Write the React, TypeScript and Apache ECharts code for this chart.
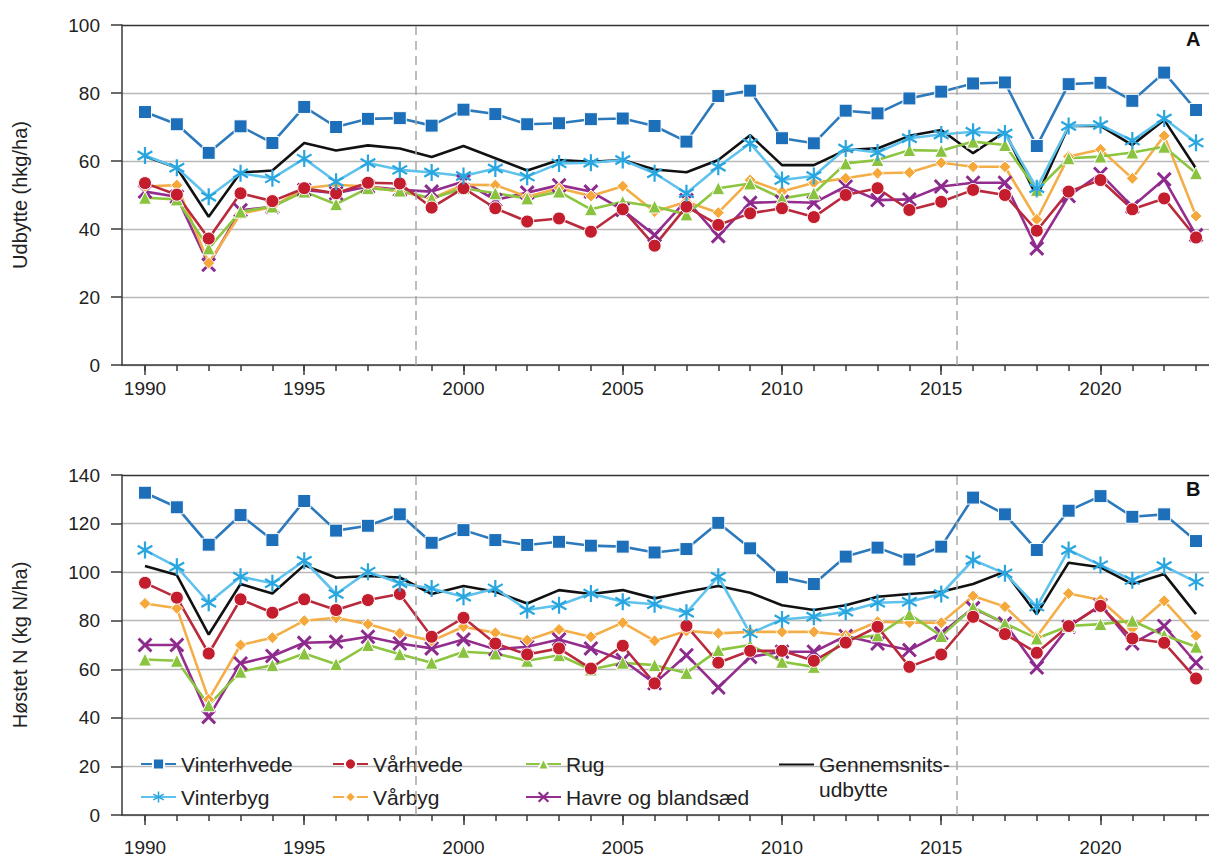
import React, { useEffect, useRef } from 'react';
import * as echarts from 'echarts';

// ---------- data ----------
const years = [1990, 1991, 1992, 1993, 1994, 1995, 1996, 1997, 1998, 1999, 2000, 2001, 2002, 2003, 2004, 2005, 2006, 2007, 2008, 2009, 2010, 2011, 2012, 2013, 2014, 2015, 2016, 2017, 2018, 2019, 2020, 2021, 2022, 2023];
const labelYears = [1990, 1995, 2000, 2005, 2010, 2015, 2020];
const periodBreaks = [1998.5, 2015.5];

// Panel A: Udbytte (hkg/ha)
const vinterhvedeA = [74.4, 70.8, 62.4, 70.2, 65.3, 75.9, 70.0, 72.4, 72.6, 70.4, 75.1, 73.8, 70.8, 71.1, 72.3, 72.5, 70.3, 65.7, 79.1, 80.7, 66.7, 65.2, 74.8, 74.0, 78.4, 80.4, 82.8, 83.1, 64.4, 82.6, 83.0, 77.7, 86.0, 75.0];
const vinterbygA = [61.6, 58.0, 49.5, 56.4, 54.9, 60.7, 53.9, 59.4, 57.4, 56.6, 55.6, 57.8, 55.4, 59.3, 59.5, 60.3, 56.4, 50.5, 58.3, 65.2, 54.4, 55.6, 63.7, 62.5, 66.7, 67.8, 68.6, 68.1, 52.0, 70.3, 70.6, 66.0, 72.5, 65.4];
const vaarhvedeA = [53.5, 50.1, 37.2, 50.5, 48.2, 52.0, 50.5, 53.6, 53.4, 46.3, 52.0, 46.1, 42.2, 43.1, 39.2, 45.8, 35.1, 46.6, 41.2, 44.6, 46.1, 43.5, 50.0, 52.0, 45.6, 48.0, 51.5, 50.0, 39.5, 51.0, 54.4, 45.8, 49.0, 37.5];
const rugA = [49.2, 48.7, 34.3, 45.1, 46.6, 51.0, 47.3, 52.0, 51.3, 49.0, 52.0, 50.5, 49.0, 51.0, 45.8, 48.0, 46.6, 44.3, 52.0, 53.4, 49.0, 50.5, 59.3, 60.3, 63.2, 63.0, 65.7, 64.7, 51.5, 60.8, 61.3, 62.5, 64.2, 56.4];
const vaarbygA = [52.5, 52.9, 30.0, 44.5, 46.5, 52.0, 53.0, 52.5, 51.0, 49.0, 53.0, 52.9, 49.5, 52.0, 49.7, 52.6, 45.1, 48.0, 44.8, 54.4, 51.0, 53.6, 54.9, 56.4, 56.6, 59.5, 58.3, 58.3, 42.8, 61.3, 63.4, 54.9, 67.4, 43.8];
const havreA = [51.0, 49.5, 29.5, 45.5, 46.5, 51.5, 50.5, 52.5, 51.5, 51.0, 54.0, 48.5, 50.7, 52.9, 51.0, 45.6, 38.2, 48.5, 37.9, 47.7, 48.0, 47.7, 52.5, 48.5, 48.7, 52.5, 53.6, 53.6, 34.3, 49.7, 56.2, 46.6, 54.6, 38.2];
const gennemsnitA = [61.4, 58.0, 43.6, 56.6, 57.2, 65.3, 63.1, 64.6, 63.7, 61.2, 64.4, 60.8, 57.2, 60.3, 59.8, 60.3, 57.5, 56.7, 60.3, 67.6, 58.8, 58.8, 63.2, 63.7, 67.4, 69.1, 62.3, 68.6, 49.5, 70.3, 70.3, 64.7, 72.1, 57.8];

// Panel B: Høstet N (kg N/ha)
const vinterhvedeB = [132.7, 126.7, 111.3, 123.5, 113.2, 129.3, 117.1, 119.1, 123.8, 112.1, 117.3, 113.2, 111.2, 112.5, 110.9, 110.5, 108.1, 109.5, 120.3, 109.8, 97.9, 95.1, 106.4, 110.1, 105.2, 110.5, 130.7, 123.8, 109.1, 125.3, 131.3, 122.8, 123.8, 112.8];
const vinterbygB = [109.1, 102.2, 87.4, 98.1, 95.4, 104.7, 91.0, 100.2, 95.4, 93.3, 89.9, 93.3, 84.4, 86.4, 91.2, 87.8, 86.8, 83.3, 98.1, 74.8, 80.5, 81.6, 83.7, 87.4, 87.8, 91.0, 105.0, 99.5, 85.8, 109.1, 102.9, 96.7, 102.5, 96.0];
const vaarhvedeB = [95.6, 89.5, 66.5, 88.8, 83.3, 88.8, 84.4, 88.5, 91.0, 73.4, 81.2, 70.6, 66.1, 68.6, 60.3, 69.7, 54.2, 77.9, 62.7, 67.6, 67.6, 63.5, 71.0, 77.5, 61.0, 66.1, 81.6, 74.5, 66.8, 77.8, 86.1, 72.7, 70.9, 56.2];
const rugB = [64.0, 63.5, 45.2, 59.0, 61.7, 66.5, 62.1, 70.0, 66.2, 62.7, 67.2, 66.5, 63.5, 65.8, 59.9, 62.7, 61.7, 58.5, 67.9, 70.0, 63.1, 61.0, 72.5, 74.0, 82.7, 73.7, 85.5, 78.9, 72.7, 77.8, 78.6, 80.0, 74.0, 69.3];
const vaarbygB = [87.1, 85.1, 47.6, 70.0, 73.0, 80.0, 81.2, 78.6, 74.8, 71.7, 77.5, 75.0, 72.0, 76.4, 73.4, 79.2, 71.7, 75.8, 74.8, 75.4, 75.4, 75.4, 74.0, 79.6, 79.2, 79.2, 90.2, 85.8, 73.4, 91.2, 88.5, 76.8, 88.2, 73.8];
const havreB = [70.0, 70.0, 40.4, 62.4, 65.5, 70.9, 71.3, 73.4, 70.6, 68.6, 72.3, 68.2, 69.3, 72.3, 68.6, 63.8, 54.2, 65.8, 52.5, 65.1, 67.2, 67.2, 73.7, 70.6, 67.9, 74.8, 85.2, 78.9, 60.7, 77.5, 86.4, 70.6, 77.8, 62.7];
const gennemsnitB = [102.5, 98.8, 74.3, 95.1, 91.2, 102.9, 97.7, 98.4, 97.8, 91.0, 94.3, 91.9, 87.1, 92.6, 91.0, 92.6, 89.2, 91.9, 94.3, 91.5, 86.4, 84.4, 86.4, 89.9, 91.0, 91.9, 95.1, 100.2, 82.7, 103.9, 102.0, 95.1, 99.2, 82.7];

const NAMES = {
  vh: 'Vinterhvede',
  vb: 'Vinterbyg',
  sh: 'Vårhvede',
  sb: 'Vårbyg',
  rug: 'Rug',
  havre: 'Havre og blandsæd',
  avg: 'Gennemsnitsudbytte',
};

// ---------- symbol shapes ----------
function bar(angleDeg: number, len: number, w: number): string {
  const a = (angleDeg * Math.PI) / 180;
  const dx = Math.cos(a), dy = Math.sin(a);
  const px = -dy, py = dx;
  const h = len / 2, t = w / 2;
  const pts = [
    [h * dx + t * px, h * dy + t * py],
    [-h * dx + t * px, -h * dy + t * py],
    [-h * dx - t * px, -h * dy - t * py],
    [h * dx - t * px, h * dy - t * py],
  ].map((p) => [(p[0] + 20).toFixed(2), (p[1] + 20).toFixed(2)]);
  return `M${pts[0][0]} ${pts[0][1]} L${pts[1][0]} ${pts[1][1]} L${pts[2][0]} ${pts[2][1]} L${pts[3][0]} ${pts[3][1]} Z`;
}
const STAR = 'path://' + [90, 30, -30].map((a) => bar(a, 20, 2.6)).join(' ');
const CROSS = 'path://' + [45, -45].map((a) => bar(a, 20, 3.2)).join(' ');

const FONT = '"Liberation Sans", Arial, sans-serif';
const TXT = '#222';
const AXIS = '#3a3a3a';
const GRIDC = '#b8b8b8';

const X_MIN = 1989.278;
const X_MAX = 2023.407;

type Style = {
  symbol: string;
  size: number;
  color: string;
  line: string;
  border: number;
};

const STYLES: Record<string, Style> = {
  vh: { symbol: 'rect', size: 13, color: '#1C6FB8', line: '#2C79BC', border: 1 },
  vb: { symbol: STAR, size: 17, color: '#29A6DF', line: '#5EC2EC', border: 0 },
  sh: { symbol: 'circle', size: 13, color: '#C41E2E', line: '#B82A3C', border: 1 },
  sb: { symbol: 'diamond', size: 12, color: '#F6A83A', line: '#F4AE48', border: 1 },
  rug: { symbol: 'triangle', size: 13, color: '#8AC340', line: '#8CC540', border: 1 },
  havre: { symbol: CROSS, size: 15, color: '#8C2A8D', line: '#952D8F', border: 0 },
};

function coloredSeries(key: string, values: number[], panel: number) {
  const s = STYLES[key];
  return {
    type: 'line',
    name: (NAMES as any)[key],
    xAxisIndex: panel * 2,
    yAxisIndex: panel,
    data: years.map((y, i) => [y, values[i]]),
    symbol: s.symbol,
    symbolSize: s.size,
    symbolKeepAspect: true,
    showSymbol: true,
    itemStyle: { color: s.color, borderColor: '#fff', borderWidth: s.border },
    lineStyle: { color: s.line, width: 2.6 },
    emphasis: { disabled: true },
  };
}

function avgSeries(values: number[], panel: number) {
  return {
    type: 'line',
    name: NAMES.avg,
    xAxisIndex: panel * 2,
    yAxisIndex: panel,
    data: years.map((y, i) => [y, values[i]]),
    symbol: 'none',
    itemStyle: { color: '#111' },
    lineStyle: { color: '#111', width: 2.6 },
    emphasis: { disabled: true },
    markLine: {
      silent: true,
      symbol: ['none', 'none'],
      label: { show: false },
      lineStyle: { type: [9, 6], color: '#a8a8a8', width: 1.5 },
      data: periodBreaks.map((b) => ({ xAxis: b })),
    },
  };
}

function panelSeries(panel: number, d: Record<string, number[]>, avg: number[]) {
  return [
    avgSeries(avg, panel),
    coloredSeries('havre', d.havre, panel),
    coloredSeries('sb', d.sb, panel),
    coloredSeries('rug', d.rug, panel),
    coloredSeries('sh', d.sh, panel),
    coloredSeries('vb', d.vb, panel),
    coloredSeries('vh', d.vh, panel),
  ];
}

function xAxesFor(gridIndex: number, labelMargin: number) {
  return [
    {
      type: 'value',
      gridIndex,
      position: 'bottom',
      offset: 0,
      min: X_MIN,
      max: X_MAX,
      axisLine: { show: true, lineStyle: { color: AXIS, width: 1.5 } },
      axisTick: { show: true, customValues: years, length: 6, lineStyle: { color: AXIS, width: 1.5 } },
      axisLabel: { show: false },
      splitLine: { show: false },
    },
    {
      type: 'value',
      gridIndex,
      position: 'bottom',
      offset: 0,
      min: X_MIN,
      max: X_MAX,
      axisLine: { show: false },
      axisTick: { show: true, customValues: labelYears, length: 10, lineStyle: { color: AXIS, width: 1.5 } },
      axisLabel: {
        show: true,
        customValues: labelYears,
        margin: labelMargin,
        fontSize: 19,
        color: TXT,
        fontFamily: FONT,
        formatter: (v: number) => String(v),
      },
      splitLine: { show: false },
    },
  ];
}

function yAxisFor(gridIndex: number, max: number, name: string) {
  const n = max / 20 + 1;
  const colors: string[] = [];
  for (let i = 0; i < n; i++) colors.push(i === n - 1 ? '#333' : GRIDC);
  return {
    type: 'value',
    gridIndex,
    min: 0,
    max,
    interval: 20,
    name,
    nameLocation: 'middle',
    nameGap: 92,
    nameTextStyle: { fontSize: 20, color: TXT, fontFamily: FONT },
    axisLine: { show: true, lineStyle: { color: AXIS, width: 1.5 } },
    axisTick: { show: true, length: 11, lineStyle: { color: AXIS, width: 1.5 } },
    axisLabel: { fontSize: 19, color: TXT, margin: 22, fontFamily: FONT },
    splitLine: { show: true, lineStyle: { color: colors, width: 1.3 } },
  };
}

function legendCol(left: number, top: number, names: any[], extra: any = {}) {
  return {
    show: true,
    orient: 'vertical',
    left,
    top,
    padding: 0,
    itemWidth: 35,
    itemHeight: 14,
    itemGap: 11,
    selectedMode: false,
    data: names,
    textStyle: { fontSize: 21, color: TXT, fontFamily: FONT, lineHeight: extra.lineHeight || 22 },
    formatter: extra.formatter,
  };
}

export default function App() {
  const ref = useRef<HTMLDivElement>(null);

  useEffect(() => {
    if (!ref.current) return;
    const chart = echarts.init(ref.current, null, { renderer: 'svg' });

    const option: any = {
      animation: false,
      backgroundColor: '#fff',
      textStyle: { fontFamily: FONT },
      grid: [
        { left: 122, top: 25, width: 1087, height: 340, containLabel: false },
        { left: 122, top: 475, width: 1087, height: 340, containLabel: false },
      ],
      xAxis: [...xAxesFor(0, 14), ...xAxesFor(1, 23)],
      yAxis: [
        yAxisFor(0, 100, 'Udbytte (hkg/ha)'),
        yAxisFor(1, 140, 'Høstet N (kg N/ha)'),
      ],
      legend: [
        legendCol(140, 753, [NAMES.vh, NAMES.vb]),
        legendCol(332, 753, [NAMES.sh, NAMES.sb]),
        legendCol(525, 753, [NAMES.rug, NAMES.havre]),
        legendCol(778, 727, [{ name: NAMES.avg, itemStyle: { opacity: 0 } }], {
          lineHeight: 25,
          formatter: () => '\nGennemsnits-\nudbytte',
        }),
      ],
      graphic: [
        {
          type: 'text',
          left: 1186,
          top: 29,
          style: { text: 'A', fontSize: 20, fontWeight: 'bold', fill: '#111', fontFamily: FONT },
        },
        {
          type: 'text',
          left: 1186,
          top: 479,
          style: { text: 'B', fontSize: 20, fontWeight: 'bold', fill: '#111', fontFamily: FONT },
        },
      ],
      series: [
        ...panelSeries(0, { vh: vinterhvedeA, vb: vinterbygA, sh: vaarhvedeA, sb: vaarbygA, rug: rugA, havre: havreA }, gennemsnitA),
        ...panelSeries(1, { vh: vinterhvedeB, vb: vinterbygB, sh: vaarhvedeB, sb: vaarbygB, rug: rugB, havre: havreB }, gennemsnitB),
      ],
    };

    chart.setOption(option);
    return () => chart.dispose();
  }, []);

  return (
    <div
      ref={ref}
      style={{ position: 'fixed', left: 0, top: 0, width: 1209, height: 858, background: '#fff' }}
    />
  );
}
